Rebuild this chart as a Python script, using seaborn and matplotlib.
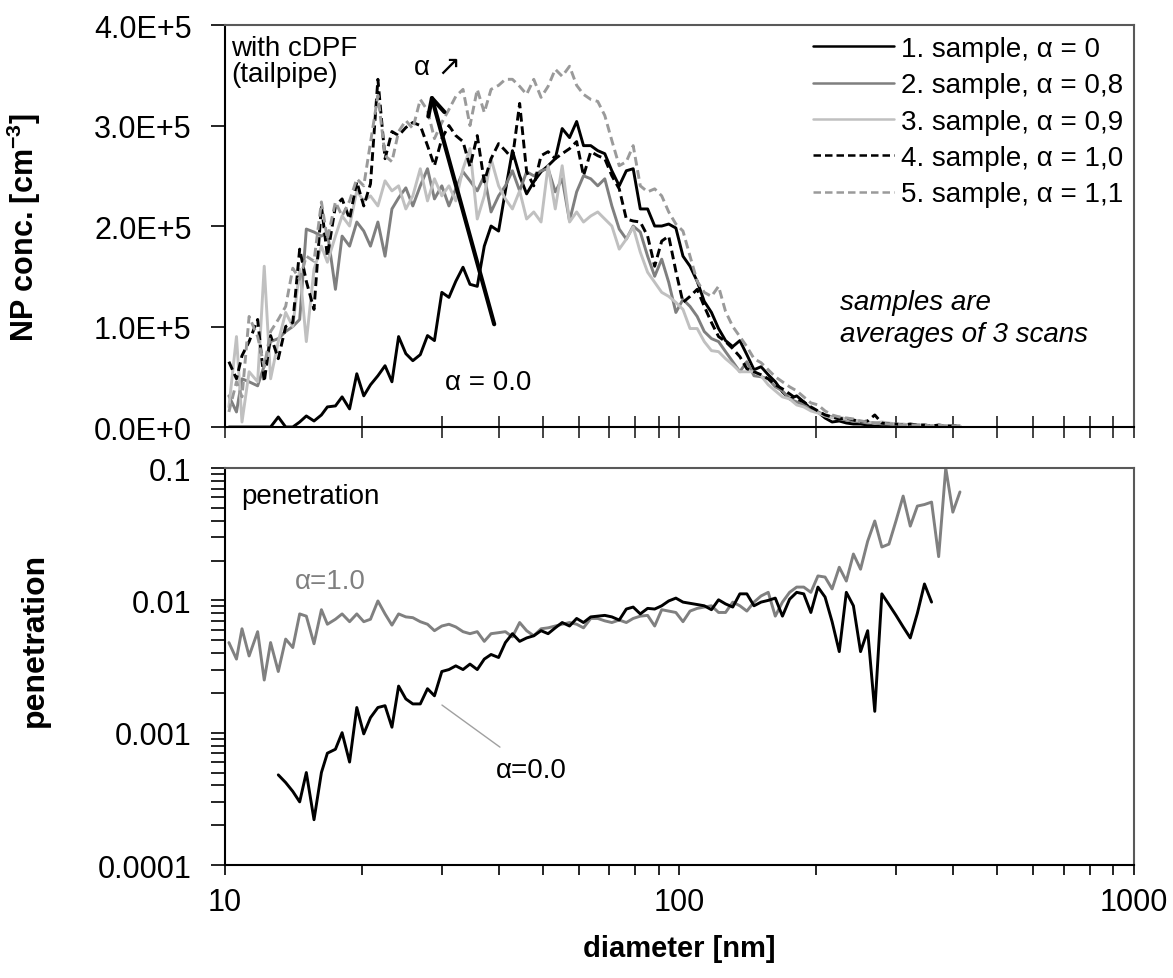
import matplotlib
matplotlib.use('Agg')
import numpy as np
import pandas as pd
import matplotlib.pyplot as plt
from matplotlib.ticker import FixedLocator, LogLocator, NullFormatter, FuncFormatter
import seaborn as sns

sns.set_style('ticks')
plt.rcParams['font.family'] = ['Liberation Sans', 'DejaVu Sans']
plt.rcParams['mathtext.fontset'] = 'custom'
plt.rcParams['mathtext.rm'] = 'Liberation Sans'
plt.rcParams['mathtext.bf'] = 'Liberation Sans:bold'
for key in ('text.color', 'axes.labelcolor', 'xtick.color', 'ytick.color'):
    plt.rcParams[key] = 'black'

# SMPS channel mid-point diameters [nm], 64 channels / decade
diam = [10.2, 10.6, 10.9, 11.3, 11.8, 12.2, 12.6, 13.1, 13.6, 14.1, 14.6, 15.1, 15.7, 16.3, 16.8,
        17.5, 18.1, 18.8, 19.5, 20.2, 20.9, 21.7, 22.5, 23.3, 24.1, 25.0, 25.9, 26.9, 27.9, 28.9,
        30.0, 31.1, 32.2, 33.4, 34.6, 35.9, 37.2, 38.5, 40.0, 41.4, 42.9, 44.5, 46.1, 47.8, 49.6,
        51.4, 53.3, 55.2, 57.3, 59.4, 61.5, 63.8, 66.1, 68.5, 71.0, 73.7, 76.4, 79.1, 82.0, 85.1,
        88.2, 91.4, 94.7, 98.2, 101.8, 105.5, 109.4, 113.4, 117.6, 121.9, 126.3, 131.0, 135.8,
        140.7, 145.9, 151.2, 156.8, 162.5, 168.5, 174.7, 181.1, 187.7, 194.6, 201.7, 209.1, 216.7,
        224.7, 232.9, 241.4, 250.3, 259.5, 269.0, 278.8, 289.0, 299.6, 310.6, 322.0, 333.8, 346.0,
        358.7, 371.8, 385.4, 399.5, 414.2]

# number concentration, units of 1E+5 cm^-3
s1 = [0, 0, 0, 0, 0, 0, 0, 0.10, 0.0, 0.0, 0.05, 0.11, 0.06, 0.12, 0.20, 0.21, 0.30, 0.18, 0.53, 0.31,
      0.42, 0.51, 0.61, 0.45, 0.90, 0.73, 0.66, 0.72, 0.91, 0.86, 1.34, 1.29, 1.45, 1.59, 1.42, 1.40,
      1.80, 2.00, 1.95, 2.35, 2.75, 2.50, 2.32, 2.44, 2.54, 2.60, 2.67, 2.97, 2.88, 3.04, 2.80, 2.80,
      2.75, 2.72, 2.55, 2.40, 2.55, 2.57, 2.17, 2.17, 2.00, 2.00, 2.02, 1.98, 1.70, 1.60, 1.45, 1.25,
      1.14, 0.98, 0.86, 0.80, 0.86, 0.72, 0.57, 0.60, 0.52, 0.45, 0.35, 0.28, 0.31, 0.25, 0.18, 0.15,
      0.09, 0.05, 0.06, 0.04, 0.03, 0.03, 0.02, 0.01, 0.01, 0.01, 0.01, 0.01, 0.0, 0.01, 0.0, 0.0,
      0.0, 0.0, 0.0, 0.0]
s2 = [0.31, 0.15, 0.48, 0.45, 0.41, 0.61, 0.85, 0.88, 0.95, 1.00, 1.07, 1.97, 1.94, 1.90, 1.94, 1.37,
      1.90, 1.80, 2.04, 1.95, 1.80, 2.04, 1.70, 2.17, 2.28, 2.38, 2.20, 2.40, 2.57, 2.27, 2.40, 2.20,
      2.37, 2.54, 2.45, 2.35, 2.50, 2.14, 2.30, 2.40, 2.55, 2.35, 2.54, 2.50, 2.55, 2.57, 2.34, 2.47,
      2.05, 2.34, 2.50, 2.47, 2.40, 2.47, 2.20, 1.97, 1.87, 2.00, 1.94, 1.70, 1.50, 1.67, 1.44, 1.14,
      1.27, 1.20, 1.10, 0.95, 0.88, 0.85, 0.75, 0.65, 0.55, 0.65, 0.51, 0.50, 0.48, 0.40, 0.36, 0.28,
      0.25, 0.22, 0.17, 0.15, 0.12, 0.10, 0.08, 0.07, 0.06, 0.05, 0.04, 0.04, 0.03, 0.03, 0.02, 0.02,
      0.02, 0.02, 0.01, 0.01, 0.01, 0.01, 0.01, 0.01]
s3 = [0.20, 0.90, 0.05, 0.55, 0.45, 1.60, 0.48, 0.85, 1.14, 1.00, 1.57, 0.85, 1.57, 1.80, 1.64, 1.90,
      2.10, 2.00, 2.35, 2.25, 2.30, 2.20, 2.45, 2.35, 2.40, 2.17, 2.30, 2.57, 2.25, 2.47, 2.30, 2.40,
      2.25, 2.57, 2.77, 2.07, 2.30, 2.67, 2.40, 2.27, 2.17, 2.35, 2.07, 2.14, 2.04, 2.60, 2.17, 2.60,
      2.04, 2.14, 2.04, 2.10, 2.14, 2.07, 2.00, 1.77, 1.87, 1.99, 1.74, 1.54, 1.44, 1.34, 1.30, 1.24,
      1.17, 0.98, 0.98, 0.85, 0.76, 0.75, 0.68, 0.62, 0.55, 0.55, 0.55, 0.51, 0.42, 0.36, 0.30, 0.28,
      0.22, 0.20, 0.16, 0.14, 0.11, 0.09, 0.10, 0.08, 0.07, 0.06, 0.05, 0.04, 0.05, 0.04, 0.03, 0.03,
      0.02, 0.02, 0.02, 0.01, 0.01, 0.01, 0.01, 0.01]
s4 = [0.65, 0.48, 0.71, 0.85, 1.07, 0.45, 0.91, 0.68, 1.00, 1.04, 1.77, 1.45, 1.17, 2.20, 1.70, 2.20,
      2.27, 2.07, 2.44, 2.20, 2.42, 3.46, 2.67, 2.94, 2.90, 2.98, 3.03, 3.00, 2.80, 2.60, 2.87, 3.00,
      2.90, 2.84, 2.59, 2.90, 2.44, 2.67, 2.82, 2.75, 2.67, 3.22, 2.54, 2.40, 2.70, 2.74, 2.67, 2.72,
      2.77, 2.84, 2.50, 2.74, 2.70, 2.67, 2.50, 2.37, 2.07, 2.05, 2.04, 1.90, 1.60, 1.85, 1.90, 1.55,
      1.24, 1.30, 1.37, 1.20, 1.04, 0.90, 0.85, 0.78, 0.70, 0.58, 0.55, 0.52, 0.48, 0.42, 0.38, 0.33,
      0.28, 0.25, 0.20, 0.16, 0.12, 0.10, 0.08, 0.09, 0.07, 0.05, 0.06, 0.12, 0.04, 0.03, 0.03, 0.02,
      0.03, 0.02, 0.02, 0.01, 0.02, 0.01, 0.01, 0.01]
s5 = [0.15, 0.45, 0.30, 1.10, 0.90, 0.60, 0.95, 1.07, 1.20, 1.58, 1.47, 1.70, 1.65, 2.24, 1.87, 2.24,
      2.10, 2.25, 2.47, 2.40, 2.83, 3.30, 2.70, 2.64, 2.94, 3.05, 2.97, 3.26, 3.15, 2.87, 3.03, 3.16,
      3.29, 3.36, 3.00, 3.36, 3.13, 3.36, 3.40, 3.46, 3.46, 3.39, 3.31, 3.46, 3.28, 3.39, 3.56, 3.49,
      3.59, 3.40, 3.31, 3.26, 3.24, 3.10, 2.85, 2.60, 2.64, 2.80, 2.40, 2.34, 2.37, 2.30, 2.14, 2.02,
      1.95, 1.70, 1.45, 1.34, 1.30, 1.40, 1.15, 1.00, 0.90, 0.80, 0.68, 0.64, 0.57, 0.50, 0.45, 0.40,
      0.36, 0.30, 0.24, 0.22, 0.16, 0.12, 0.10, 0.09, 0.08, 0.06, 0.05, 0.04, 0.04, 0.03, 0.03, 0.02,
      0.02, 0.02, 0.02, 0.01, 0.02, 0.01, 0.01, 0.01]

labels = ['1. sample, α = 0', '2. sample, α = 0,8', '3. sample, α = 0,9',
          '4. sample, α = 1,0', '5. sample, α = 1,1']
colors = ['#000000', '#7f7f7f', '#c0c0c0', '#000000', '#9a9a9a']
styles = ['-', '-', '-', (0, (3, 1.6)), (0, (3, 1.6))]

# penetration, alpha = 0.0 (channels 7..99) and alpha = 1.0 (channels 0..103)
pen0 = [0.00048, 0.00042, 0.00036, 0.00030, 0.00050, 0.00022, 0.00050, 0.00070, 0.00075, 0.00100,
        0.00060, 0.00155, 0.00098, 0.00130, 0.00155, 0.00160, 0.00110, 0.00225, 0.00180, 0.00165,
        0.00165, 0.00215, 0.00190, 0.00290, 0.00300, 0.00320, 0.00300, 0.00330, 0.00300, 0.00360,
        0.00390, 0.00370, 0.00480, 0.00560, 0.00490, 0.00520, 0.00540, 0.00590, 0.00560, 0.00620,
        0.00680, 0.00640, 0.00730, 0.00680, 0.00750, 0.00760, 0.00770, 0.00750, 0.00710, 0.00860,
        0.00890, 0.00790, 0.00870, 0.00860, 0.00910, 0.00990, 0.01040, 0.00970, 0.00950, 0.00930,
        0.00910, 0.00850, 0.01010, 0.00940, 0.00890, 0.01120, 0.01120, 0.00910, 0.00970, 0.01000,
        0.01040, 0.00760, 0.01020, 0.01150, 0.01120, 0.00810, 0.01260, 0.01060, 0.00690, 0.00410,
        0.01150, 0.00910, 0.00410, 0.00590, 0.00145, 0.01120, 0.00930, 0.00770, 0.00630, 0.00520,
        0.00800, 0.01330, 0.00970]
pen1 = [0.0048, 0.0036, 0.0061, 0.0038, 0.0058, 0.0025, 0.0048, 0.0029, 0.0051, 0.0044, 0.0079,
        0.0076, 0.0047, 0.0085, 0.0066, 0.0072, 0.0079, 0.0069, 0.0079, 0.0069, 0.0072, 0.0099,
        0.0079, 0.0065, 0.0079, 0.0075, 0.0074, 0.0069, 0.0066, 0.0059, 0.0064, 0.0066, 0.0063,
        0.0058, 0.0056, 0.0058, 0.0049, 0.0056, 0.0057, 0.0058, 0.0053, 0.0068, 0.0059, 0.0054,
        0.0061, 0.0062, 0.0064, 0.0066, 0.0068, 0.0066, 0.0062, 0.0073, 0.0073, 0.0070, 0.0068,
        0.0071, 0.0068, 0.0073, 0.0076, 0.0077, 0.0064, 0.0085, 0.0083, 0.0081, 0.0069, 0.0083,
        0.0087, 0.0089, 0.0091, 0.0081, 0.0081, 0.0097, 0.0091, 0.0083, 0.0097, 0.0108, 0.0115,
        0.0076, 0.0097, 0.0115, 0.0126, 0.0126, 0.0115, 0.0153, 0.0150, 0.0122, 0.0178, 0.0140,
        0.0224, 0.0172, 0.0280, 0.0398, 0.0253, 0.0266, 0.0400, 0.0614, 0.0364, 0.0516, 0.0530,
        0.0553, 0.0214, 0.1000, 0.0464, 0.0660]

fig = plt.figure(figsize=(11.73, 9.79), dpi=100)
ax1 = fig.add_axes([0.1918, 0.5628, 0.7749, 0.4106])
ax2 = fig.add_axes([0.1918, 0.1154, 0.7749, 0.4055])

# ---- top: number size distributions
for vals, lab, c, ls in zip([s1, s2, s3, s4, s5], labels, colors, styles):
    df = pd.DataFrame({'diameter': diam, 'conc': np.array(vals) * 1e5})
    sns.lineplot(data=df, x='diameter', y='conc', ax=ax1, color=c, linestyle=ls,
                 linewidth=2.1, label=lab)

ax1.set_xscale('log')
ax1.set_xlim(10, 1000)
ax1.set_ylim(0, 4e5)
ax1.set_yticks([0, 1e5, 2e5, 3e5, 4e5])


def sci_fmt(v, pos):
    if v == 0:
        return '0.0E+0'
    e = int(np.floor(np.log10(v)))
    return f'{v / 10 ** e:.1f}E+{e}'


ax1.yaxis.set_major_formatter(FuncFormatter(sci_fmt))
ax1.xaxis.set_major_locator(FixedLocator([10, 100, 1000]))
ax1.xaxis.set_minor_locator(LogLocator(base=10, subs=np.arange(2, 10)))
ax1.xaxis.set_minor_formatter(NullFormatter())
ax1.tick_params(axis='x', which='both', direction='inout', length=16, width=1.2,
                labelbottom=False, color='#222222')
ax1.tick_params(axis='y', direction='out', length=10, width=1.2, pad=14, labelsize=22)
ax1.set_xlabel('')
ax1.set_ylabel(r'NP conc. [cm$^{\mathbf{-3}}$]', fontsize=22, fontweight='bold')
ax1.yaxis.set_label_coords(-0.2, 0.5)

leg = ax1.legend(loc='upper right', frameon=False, fontsize=20, handlelength=2.9,
                 handletextpad=0.25, labelspacing=0.37, borderaxespad=0.0)
for h in leg.get_lines():
    h.set_linewidth(1.8)

ax1.text(0.0066, 0.975, 'with cDPF\n(tailpipe)', transform=ax1.transAxes, fontsize=20,
         va='top', ha='left', linespacing=1.0)
ax1.text(0.208, 0.896, 'α ↗', transform=ax1.transAxes, fontsize=20, va='center', ha='left')
ax1.text(0.242, 0.112, 'α = 0.0', transform=ax1.transAxes, fontsize=20, va='center', ha='left')
ax1.text(0.677, 0.271, 'samples are\naverages of 3 scans', transform=ax1.transAxes, fontsize=20,
         va='center', ha='left', style='italic', linespacing=1.3)
ax1.annotate('', xy=(0.2255, 0.836), xytext=(0.297, 0.249), xycoords='axes fraction',
             arrowprops=dict(arrowstyle='->', lw=3, color='black', mutation_scale=30))

# ---- bottom: penetration
df0 = pd.DataFrame({'diameter': diam[7:100], 'pen': pen0})
df1 = pd.DataFrame({'diameter': diam, 'pen': pen1})
sns.lineplot(data=df1, x='diameter', y='pen', ax=ax2, color='#808080', linewidth=2.1)
sns.lineplot(data=df0, x='diameter', y='pen', ax=ax2, color='#000000', linewidth=2.1)

ax2.set_xscale('log')
ax2.set_yscale('log')
ax2.set_xlim(10, 1000)
ax2.set_ylim(1e-4, 0.1)
ax2.xaxis.set_major_locator(FixedLocator([10, 100, 1000]))
ax2.xaxis.set_minor_locator(LogLocator(base=10, subs=np.arange(2, 10)))
ax2.xaxis.set_minor_formatter(NullFormatter())
ax2.xaxis.set_major_formatter(FuncFormatter(lambda v, p: f'{v:g}'))
ax2.yaxis.set_major_locator(FixedLocator([1e-4, 1e-3, 1e-2, 1e-1]))
ax2.yaxis.set_minor_locator(LogLocator(base=10, subs=np.arange(2, 10)))
ax2.yaxis.set_minor_formatter(NullFormatter())
ax2.yaxis.set_major_formatter(FuncFormatter(lambda v, p: f'{v:g}'))
ax2.tick_params(axis='x', which='both', direction='out', length=7, width=1.2, pad=9,
                labelsize=22)
ax2.tick_params(axis='y', which='both', direction='out', length=10, width=1.2, pad=14,
                labelsize=22)
ax2.set_xlabel('diameter [nm]', fontsize=21, fontweight='bold', labelpad=12)
ax2.set_ylabel('penetration', fontsize=23, fontweight='bold')
ax2.yaxis.set_label_coords(-0.1925, 0.569)

ax2.text(0.0176, 0.929, 'penetration', transform=ax2.transAxes, fontsize=20, va='center')
ax2.text(0.077, 0.715, 'α=1.0', transform=ax2.transAxes, fontsize=20, va='center',
         color='#808080')
ax2.text(0.298, 0.239, 'α=0.0', transform=ax2.transAxes, fontsize=20, va='center')
ax2.plot([0.2387, 0.3025], [0.403, 0.297], transform=ax2.transAxes, color='#a0a0a0', lw=1)

for ax in (ax1, ax2):
    for side in ('left', 'bottom'):
        ax.spines[side].set_color('black')
        ax.spines[side].set_linewidth(1.5)
    for side in ('top', 'right'):
        ax.spines[side].set_color('#595959')
        ax.spines[side].set_linewidth(1.5)

fig.savefig('out.png', dpi=100)
